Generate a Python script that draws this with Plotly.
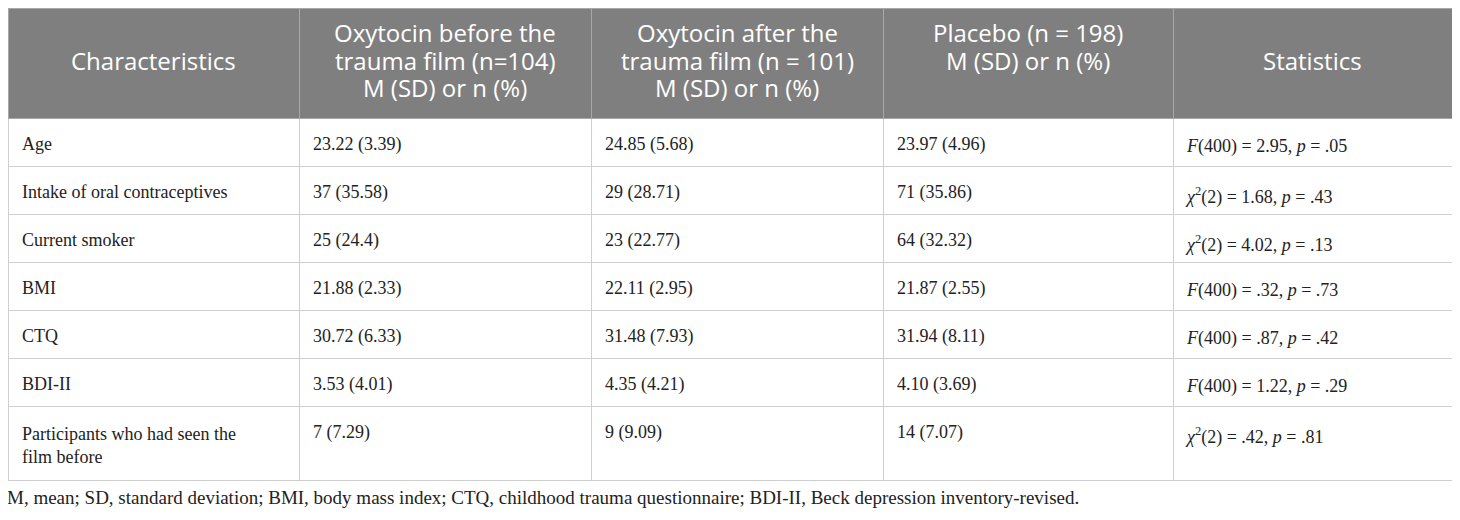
import plotly.graph_objects as go

# Table content
header_lines = [
    ["", "Characteristics"],
    ["Oxytocin before the", "trauma film (n=104)", "M (SD) or n (%)"],
    ["Oxytocin after the", "trauma film (n = 101)", "M (SD) or n (%)"],
    ["Placebo (n = 198)", "M (SD) or n (%)"],
    ["", "Statistics"],
]
characteristics = [
    "Age",
    "Intake of oral contraceptives",
    "Current smoker",
    "BMI",
    "CTQ",
    "BDI-II",
    "Participants who had seen the<br>film before",
]
oxy_before = ["23.22 (3.39)", "37 (35.58)", "25 (24.4)", "21.88 (2.33)",
              "30.72 (6.33)", "3.53 (4.01)", "7 (7.29)"]
oxy_after = ["24.85 (5.68)", "29 (28.71)", "23 (22.77)", "22.11 (2.95)",
             "31.48 (7.93)", "4.35 (4.21)", "9 (9.09)"]
placebo = ["23.97 (4.96)", "71 (35.86)", "64 (32.32)", "21.87 (2.55)",
           "31.94 (8.11)", "4.10 (3.69)", "14 (7.07)"]
statistics = [
    "<i>F</i>(400) = 2.95, <i>p</i> = .05",
    "<i>χ</i><sup>2</sup>(2) = 1.68, <i>p</i> = .43",
    "<i>χ</i><sup>2</sup>(2) = 4.02, <i>p</i> = .13",
    "<i>F</i>(400) = .32, <i>p</i> = .73",
    "<i>F</i>(400) = .87, <i>p</i> = .42",
    "<i>F</i>(400) = 1.22, <i>p</i> = .29",
    "<i>χ</i><sup>2</sup>(2) = .42, <i>p</i> = .81",
]
footnote = ("M, mean; SD, standard deviation; BMI, body mass index; CTQ, childhood trauma "
            "questionnaire; BDI-II, Beck depression inventory-revised.")

col_widths = [291, 292, 292, 290, 279]
body = [characteristics, oxy_before, oxy_after, placebo, statistics]

# layout numbers (figure pixels)
W, H = 1460, 520
table_w = sum(col_widths)
text_dx, text_dy = 6, 10          # extra cell padding for the body text
m_l, m_t, m_b = 0, 0, 30
m_r = W - m_l - table_w - text_dx
plot_w = W - m_l - m_r
plot_h = H - m_t - m_b
head_h, row_h = 110, 48
head_y0, head_step = 25, 27.5     # header text line centres

dxp = text_dx / plot_w
dyp = text_dy / plot_h
body_font = dict(family="Liberation Serif", size=18, color="#222222")
clear = "rgba(0,0,0,0)"

# grid layer: same text, invisible; last row gets one spare line so it is taller
grid_vals = [list(col) for col in body]
grid_vals[0][-1] = characteristics[-1] + "<br>."

grid = go.Table(
    columnwidth=col_widths,
    header=dict(values=[""] * 5, fill_color="#7f7f7f",
                line=dict(color="#a8a8a8", width=1), height=head_h),
    cells=dict(values=grid_vals, fill_color="white",
               line=dict(color="#cfcfcf", width=1), height=row_h,
               align="left",
               font=dict(family="Liberation Serif", size=16, color=clear)),
    domain=dict(x=[0, table_w / plot_w], y=[0, 1]),
)

# text layer, nudged right/down
text = go.Table(
    columnwidth=col_widths,
    header=dict(values=[""] * 5, fill_color=clear,
                line=dict(color=clear, width=0), height=head_h),
    cells=dict(values=body, fill_color=clear,
               line=dict(color=clear, width=0), height=row_h,
               align="left", font=body_font),
    domain=dict(x=[dxp, 1], y=[0, 1 - dyp]),
)

fig = go.Figure(data=[grid, text])

# header labels, one annotation per line so each line is centred
left = 0
for w, lines in zip(col_widths, header_lines):
    xc = (left + w / 2) / plot_w
    left += w
    for i, line in enumerate(lines):
        if not line:
            continue
        y_pix = head_y0 + i * head_step
        fig.add_annotation(text=line, x=xc, y=1 - (y_pix - m_t) / plot_h,
                           xref="paper", yref="paper", xanchor="center",
                           yanchor="middle", showarrow=False,
                           font=dict(family="Open Sans", size=24, color="white"))

fig.add_annotation(text=footnote, x=0, y=1 - (489 - m_t) / plot_h,
                   xref="paper", yref="paper", xanchor="left", yanchor="middle",
                   xshift=-3, showarrow=False,
                   font=dict(family="Liberation Serif", size=19, color="#222222"))

fig.update_layout(width=W, height=H,
                  margin=dict(l=m_l, r=m_r, t=m_t, b=m_b),
                  paper_bgcolor="white")

fig.write_html("out.html")
